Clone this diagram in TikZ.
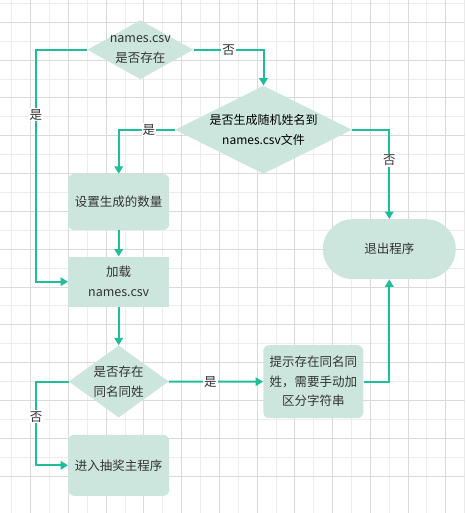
\documentclass[tikz,border=0pt]{standalone}
\usepackage{fontspec}
\setmainfont{Noto Sans CJK SC}
\usepackage{tikz}
\usetikzlibrary{shapes.geometric, arrows.meta}
\definecolor{flowLine}{HTML}{20BE98}
\definecolor{flowFill}{HTML}{CCE6DE}
\definecolor{flowText}{HTML}{333333}
\definecolor{gridDark}{HTML}{DADADA}
\definecolor{gridLight}{HTML}{EDEDED}

\begin{document}
\begin{tikzpicture}[x=1pt, y=-1pt,
    box/.style={fill=flowFill, text=flowText, minimum width=101pt, align=center,
        inner sep=0pt, font=\fontsize{12.5}{20}\selectfont},
    dia/.style={diamond, fill=flowFill, inner sep=0pt},
    dtext/.style={text=flowText, align=center, font=\fontsize{12.5}{20}\selectfont},
    flow/.style={draw=flowLine, line width=2pt, -{Triangle[width=8.5pt,length=7.5pt]}},
    lab/.style={fill=white, text=flowText, inner sep=1pt, font=\fontsize{12.5}{14}\selectfont}]
    \useasboundingbox (0,0) rectangle (465,513);
    \foreach \i in {0,...,12} {
        \draw[gridLight, line width=0.8pt] ({11.8+37.73*\i},0) -- ++(0,513);
        \draw[gridLight, line width=0.8pt] (0,{3.4+37.8*\i}) -- ++(465,0);
    }
    \foreach \i in {0,...,12} {
        \draw[gridDark, line width=0.8pt] ({30.7+37.73*\i},0) -- ++(0,513);
        \draw[gridDark, line width=0.8pt] (0,{22.3+37.8*\i}) -- ++(465,0);
    }

    \node[dia, minimum width=106pt, minimum height=59pt,
        label={[dtext]center:names.csv\\是否存在}] (exists) at (140.3,49.7) {};
    \node[dia, minimum width=177pt, minimum height=88pt,
        label={[dtext, text=black, font=\fontsize{12}{20}\selectfont]center:是否生成随机姓名到\\names.csv文件}] (gen) at (263.5,129.8) {};
    \node[box, rounded corners=6pt, minimum height=56pt] (count) at (118.7,202) {设置生成的数量};
    \node[box, minimum height=50pt] (load) at (118.7,281.7) {加载\\names.csv};
    \node[dia, minimum width=100pt, minimum height=72pt,
        label={[dtext]center:是否存在\\同名同姓}] (dup) at (118.7,381.5) {};
    \node[box, rounded corners=6pt, minimum width=100pt, minimum height=73pt,
        font=\fontsize{12.5}{19.5}\selectfont] (warn) at (313.3,381.7) {提示存在同名同\\姓，需要手动加\\区分字符串};
    \node[box, rounded corners=30pt, minimum width=133pt, minimum height=60pt] (quit) at (389.3,249.2) {退出程序};
    \node[box, rounded corners=6pt, minimum height=61pt] (lottery) at (118.7,465.3) {进入抽奖主程序};

    \draw[flow] (exists.east) -| node[lab, pos=0.25] {否} (gen.north);
    \draw[flow] (exists.west) -- ++(-51.3,0) |- node[lab, pos=0.14] {是} (load.west);
    \draw[flow] (gen.west) -| node[lab, pos=0.23] {是} (count.north);
    \draw[flow] (gen.east) -| node[lab, pos=0.67] {否} (quit.north);
    \draw[flow] (count) -- (load);
    \draw[flow] (load) -- (dup);
    \draw[flow] (dup) -- node[lab, pos=0.44] {是} (warn);
    \draw[flow] (warn.east) -| (quit.south);
    \draw[flow] (dup.west) -- ++(-32.3,0) |- node[lab, pos=0.21] {否} (lottery.west);
\end{tikzpicture}
\end{document}
